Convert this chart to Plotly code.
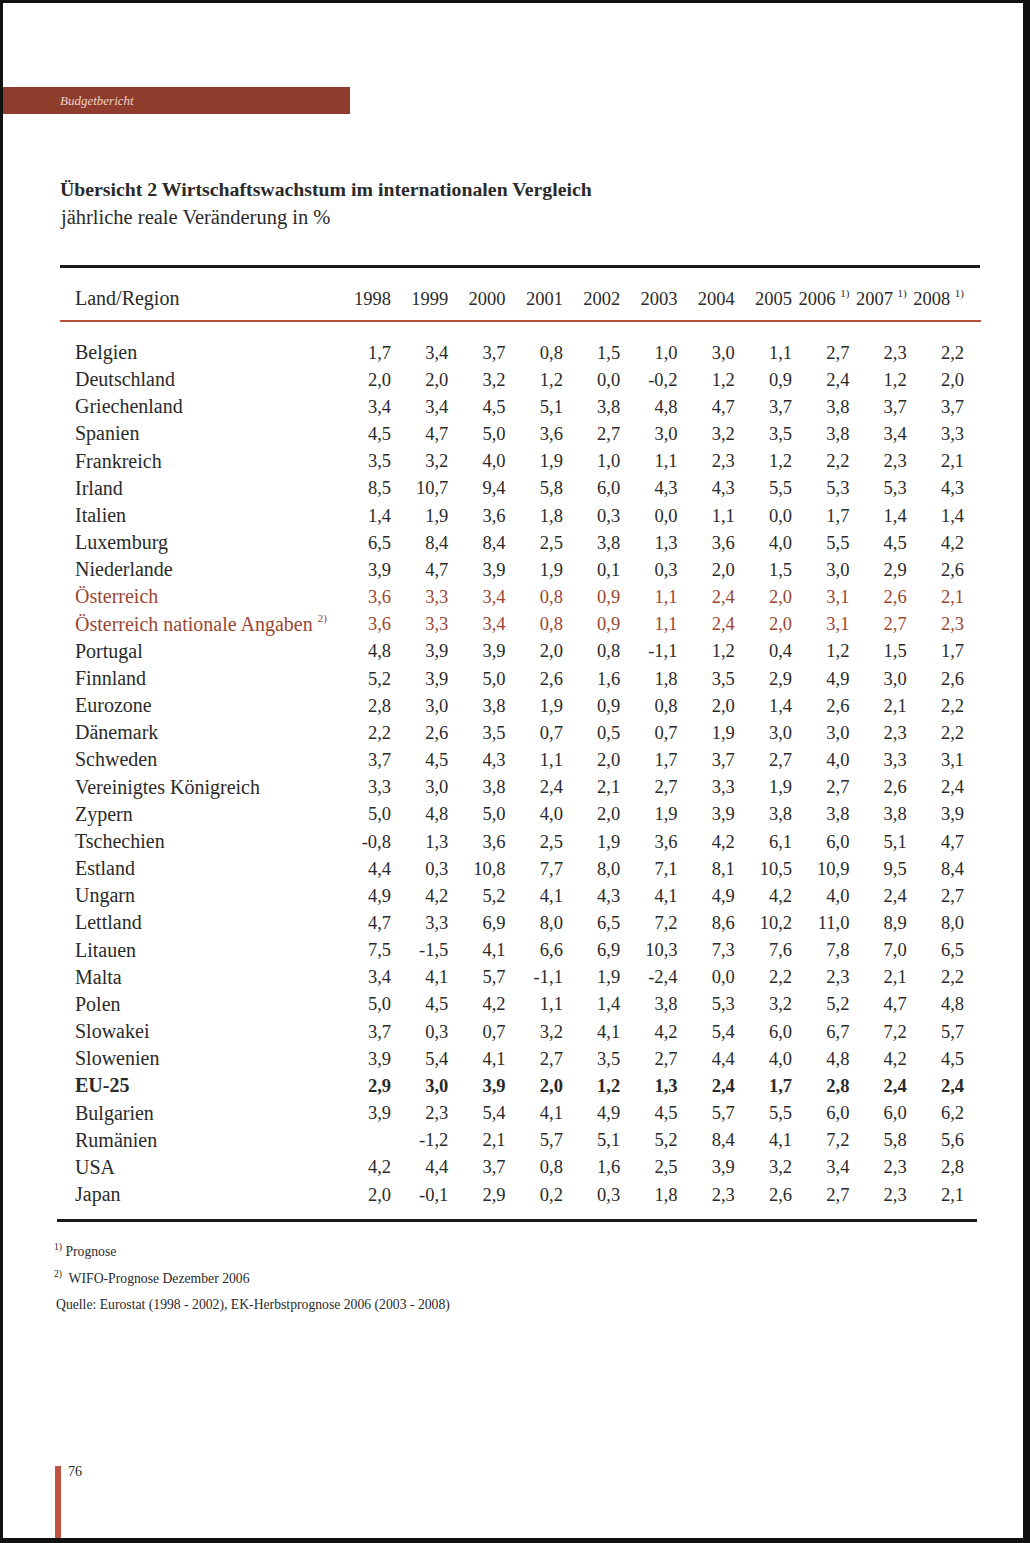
import plotly.graph_objects as go

W, H = 1030, 1543

years = ["1998", "1999", "2000", "2001", "2002", "2003", "2004", "2005", "2006", "2007", "2008"]
SUP = "<sup><span style='font-size:11px'>1)</span></sup>"
year_labels = ["1998", "1999", "2000", "2001", "2002", "2003", "2004", "2005",
               "2006 " + SUP, "2007 " + SUP, "2008 " + SUP]

countries = ["Belgien", "Deutschland", "Griechenland", "Spanien", "Frankreich", "Irland",
             "Italien", "Luxemburg", "Niederlande", "Österreich",
             "Österreich nationale Angaben", "Portugal", "Finnland", "Eurozone",
             "Dänemark", "Schweden", "Vereinigtes Königreich", "Zypern", "Tschechien",
             "Estland", "Ungarn", "Lettland", "Litauen", "Malta", "Polen", "Slowakei",
             "Slowenien", "EU-25", "Bulgarien", "Rumänien", "USA", "Japan"]

country_labels = list(countries)
country_labels[10] = "Österreich nationale Angaben <sup><span style='font-size:11px'>2)</span></sup>"

values = [
    [1.7, 3.4, 3.7, 0.8, 1.5, 1.0, 3.0, 1.1, 2.7, 2.3, 2.2],
    [2.0, 2.0, 3.2, 1.2, 0.0, -0.2, 1.2, 0.9, 2.4, 1.2, 2.0],
    [3.4, 3.4, 4.5, 5.1, 3.8, 4.8, 4.7, 3.7, 3.8, 3.7, 3.7],
    [4.5, 4.7, 5.0, 3.6, 2.7, 3.0, 3.2, 3.5, 3.8, 3.4, 3.3],
    [3.5, 3.2, 4.0, 1.9, 1.0, 1.1, 2.3, 1.2, 2.2, 2.3, 2.1],
    [8.5, 10.7, 9.4, 5.8, 6.0, 4.3, 4.3, 5.5, 5.3, 5.3, 4.3],
    [1.4, 1.9, 3.6, 1.8, 0.3, 0.0, 1.1, 0.0, 1.7, 1.4, 1.4],
    [6.5, 8.4, 8.4, 2.5, 3.8, 1.3, 3.6, 4.0, 5.5, 4.5, 4.2],
    [3.9, 4.7, 3.9, 1.9, 0.1, 0.3, 2.0, 1.5, 3.0, 2.9, 2.6],
    [3.6, 3.3, 3.4, 0.8, 0.9, 1.1, 2.4, 2.0, 3.1, 2.6, 2.1],
    [3.6, 3.3, 3.4, 0.8, 0.9, 1.1, 2.4, 2.0, 3.1, 2.7, 2.3],
    [4.8, 3.9, 3.9, 2.0, 0.8, -1.1, 1.2, 0.4, 1.2, 1.5, 1.7],
    [5.2, 3.9, 5.0, 2.6, 1.6, 1.8, 3.5, 2.9, 4.9, 3.0, 2.6],
    [2.8, 3.0, 3.8, 1.9, 0.9, 0.8, 2.0, 1.4, 2.6, 2.1, 2.2],
    [2.2, 2.6, 3.5, 0.7, 0.5, 0.7, 1.9, 3.0, 3.0, 2.3, 2.2],
    [3.7, 4.5, 4.3, 1.1, 2.0, 1.7, 3.7, 2.7, 4.0, 3.3, 3.1],
    [3.3, 3.0, 3.8, 2.4, 2.1, 2.7, 3.3, 1.9, 2.7, 2.6, 2.4],
    [5.0, 4.8, 5.0, 4.0, 2.0, 1.9, 3.9, 3.8, 3.8, 3.8, 3.9],
    [-0.8, 1.3, 3.6, 2.5, 1.9, 3.6, 4.2, 6.1, 6.0, 5.1, 4.7],
    [4.4, 0.3, 10.8, 7.7, 8.0, 7.1, 8.1, 10.5, 10.9, 9.5, 8.4],
    [4.9, 4.2, 5.2, 4.1, 4.3, 4.1, 4.9, 4.2, 4.0, 2.4, 2.7],
    [4.7, 3.3, 6.9, 8.0, 6.5, 7.2, 8.6, 10.2, 11.0, 8.9, 8.0],
    [7.5, -1.5, 4.1, 6.6, 6.9, 10.3, 7.3, 7.6, 7.8, 7.0, 6.5],
    [3.4, 4.1, 5.7, -1.1, 1.9, -2.4, 0.0, 2.2, 2.3, 2.1, 2.2],
    [5.0, 4.5, 4.2, 1.1, 1.4, 3.8, 5.3, 3.2, 5.2, 4.7, 4.8],
    [3.7, 0.3, 0.7, 3.2, 4.1, 4.2, 5.4, 6.0, 6.7, 7.2, 5.7],
    [3.9, 5.4, 4.1, 2.7, 3.5, 2.7, 4.4, 4.0, 4.8, 4.2, 4.5],
    [2.9, 3.0, 3.9, 2.0, 1.2, 1.3, 2.4, 1.7, 2.8, 2.4, 2.4],
    [3.9, 2.3, 5.4, 4.1, 4.9, 4.5, 5.7, 5.5, 6.0, 6.0, 6.2],
    [None, -1.2, 2.1, 5.7, 5.1, 5.2, 8.4, 4.1, 7.2, 5.8, 5.6],
    [4.2, 4.4, 3.7, 0.8, 1.6, 2.5, 3.9, 3.2, 3.4, 2.3, 2.8],
    [2.0, -0.1, 2.9, 0.2, 0.3, 1.8, 2.3, 2.6, 2.7, 2.3, 2.1],
]

highlight_rows = ["Österreich", "Österreich nationale Angaben"]
bold_rows = ["EU-25"]

FONT = "Liberation Serif"
TXT = "#2a2a2a"
BROWN = "#9a4632"
BANNER = "#8e3d2c"
REDLINE = "#b9503a"

# ---- layout geometry (pixels on the page) ----
COL_FIRST_PX, COL_LAST_PX = 391, 964   # right edge of first/last number column
ROW_FIRST_PX, ROW_LAST_PX = 354, 1196  # text anchor of first/last data row
LABEL_X_PX = 75
HEADER_Y_PX = 300

nc, nr = len(years), len(countries)
xspan = W * (nc - 1) / (COL_LAST_PX - COL_FIRST_PX)
x_lo = -COL_FIRST_PX / W * xspan
yspan = H * (nr - 1) / (ROW_LAST_PX - ROW_FIRST_PX)
y_lo = -ROW_FIRST_PX / H * yspan
header_row = (HEADER_Y_PX - ROW_FIRST_PX) / (ROW_LAST_PX - ROW_FIRST_PX) * (nr - 1)
label_col = x_lo + LABEL_X_PX / W * xspan


def fmt(v):
    if v is None:
        return ""
    return f"{v:.1f}".replace(".", ",")


def row_color(c):
    return BROWN if c in highlight_rows else TXT


xs, ys, texts, colors = [], [], [], []
for ci, c in enumerate(countries):
    for yi, yr in enumerate(years):
        v = values[ci][yi]
        if v is None:
            continue
        t = fmt(v)
        if c in bold_rows:
            t = f"<b>{t}</b>"
        xs.append(yi)
        ys.append(ci)
        texts.append(t)
        colors.append(row_color(c))

fig = go.Figure()
# data cells
fig.add_trace(go.Scatter(
    x=xs, y=ys, text=texts, mode="text", textposition="middle left",
    textfont=dict(family=FONT, size=18.5, color=colors),
    hoverinfo="skip", showlegend=False, cliponaxis=False,
))
# column header
fig.add_trace(go.Scatter(
    x=list(range(nc)), y=[header_row] * nc, text=year_labels, mode="text",
    textposition="middle left", textfont=dict(family=FONT, size=18.5, color=TXT),
    hoverinfo="skip", showlegend=False, cliponaxis=False,
))
# row labels (+ header label)
lab_text = [f"<b>{country_labels[i]}</b>" if c in bold_rows else country_labels[i]
            for i, c in enumerate(countries)]
fig.add_trace(go.Scatter(
    x=[label_col] * (nr + 1), y=list(range(nr)) + [header_row],
    text=lab_text + ["Land/Region"], mode="text", textposition="middle right",
    textfont=dict(family=FONT, size=20, color=[row_color(c) for c in countries] + [TXT]),
    hoverinfo="skip", showlegend=False, cliponaxis=False,
))

annotations = []


def page_text(xpx, ypx, text, size, color=TXT, bold=False, italic=False):
    t = text
    if bold:
        t = f"<b>{t}</b>"
    if italic:
        t = f"<i>{t}</i>"
    annotations.append(dict(x=xpx / W, xref="paper", y=1 - ypx / H, yref="paper",
                            text=t, showarrow=False, xanchor="left", yanchor="middle",
                            font=dict(family=FONT, size=size, color=color)))


page_text(58, 101, "Budgetbericht", 13, color="#f0d2c8", italic=True)
page_text(58, 189, "Übersicht 2 Wirtschaftswachstum im internationalen Vergleich", 19.8, bold=True)
page_text(58, 217, "jährliche reale Veränderung in %", 20.5)
page_text(52, 1250, "<sup>1)</sup> Prognose", 13.7)
page_text(52, 1277, "<sup>2)</sup>  WIFO-Prognose Dezember 2006", 13.7)
page_text(54, 1305, "Quelle: Eurostat (1998 - 2002), EK-Herbstprognose 2006 (2003 - 2008)", 13.7)
page_text(66, 1471, "76", 14)


def rect(x0, y0, x1, y1, color):
    return dict(type="rect", xref="paper", yref="paper", x0=x0 / W, x1=x1 / W,
                y0=1 - y1 / H, y1=1 - y0 / H, fillcolor=color, line=dict(width=0), layer="below")


shapes = [
    rect(0, 87, 350, 114, BANNER),                 # banner
    rect(60, 265, 980, 268, "#1a1a1a"),            # top rule
    rect(60, 320, 981, 322, REDLINE),              # header rule
    rect(57, 1219, 977, 1222, "#1a1a1a"),          # bottom rule
    rect(55, 1466, 61, 1538, "#c0533d"),           # page marker bar
    # scan frame
    rect(0, 0, W, 3, "#111111"),
    rect(0, 0, 3, H, "#111111"),
    rect(1023, 0, W, H, "#111111"),
    rect(0, 1538, W, H, "#111111"),
]

fig.update_layout(
    width=W, height=H, margin=dict(l=0, r=0, t=0, b=0),
    paper_bgcolor="white", plot_bgcolor="white",
    xaxis=dict(range=[x_lo, x_lo + xspan], visible=False, fixedrange=True),
    yaxis=dict(range=[y_lo + yspan, y_lo], visible=False, fixedrange=True),
    annotations=annotations, shapes=shapes,
)

fig.write_html(
    "out.html",
    config={"displayModeBar": False},
    post_script="document.body.style.margin='0px';document.body.style.overflow='hidden';",
)
